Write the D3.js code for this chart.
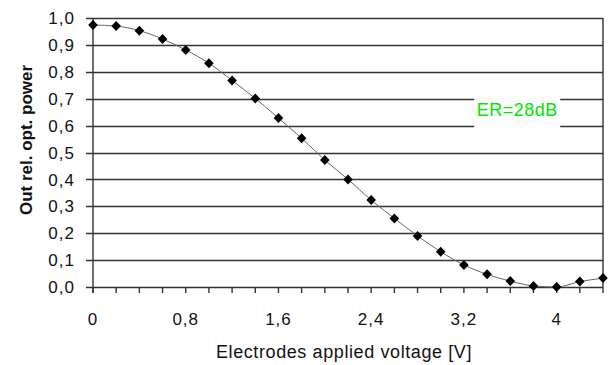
<!DOCTYPE html>
<html>
<head>
<meta charset="utf-8">
<script src="https://cdn.jsdelivr.net/npm/d3@7"></script>
<style>
  body { margin: 0; background: #fff; }
  svg { display: block; font-family: "Liberation Sans", Arial, sans-serif; }
</style>
</head>
<body>
<svg id="chart"></svg>
<script>
const width = 610
const height = 365

// voltage [V] and relative optical output power
const voltage = [0, 0.2, 0.4, 0.6, 0.8, 1.0, 1.2, 1.4, 1.6, 1.8, 2.0, 2.2, 2.4, 2.6, 2.8, 3.0, 3.2, 3.4, 3.6, 3.8, 4.0, 4.2, 4.4]
const power = [0.974, 0.97, 0.953, 0.922, 0.881, 0.832, 0.768, 0.701, 0.628, 0.553, 0.472, 0.40, 0.323, 0.255, 0.19, 0.131, 0.082, 0.047, 0.022, 0.004, 0.0, 0.02, 0.033]
const yTicks = [0, 0.1, 0.2, 0.3, 0.4, 0.5, 0.6, 0.7, 0.8, 0.9, 1.0]
const xMinorTicks = d3.range(0, 4.41, 0.2)
const xLabelTicks = [0, 0.8, 1.6, 2.4, 3.2, 4]
const annotation = 'ER=28dB'

const margin = { top: 18, right: 7, bottom: 78, left: 93 }
const innerW = width - margin.left - margin.right
const innerH = height - margin.top - margin.bottom

const x = d3.scaleLinear().domain([0, 4.4]).range([0, innerW])
const y = d3.scaleLinear().domain([0, 1]).range([innerH, 0])

const comma = v => d3.format('.1f')(v).replace('.', ',')
const commaTrim = v => (Number.isInteger(v) ? String(v) : comma(v))

const svg = d3.select('#chart').attr('width', width).attr('height', height)
const g = svg.append('g').attr('transform', `translate(${margin.left},${margin.top})`)

// horizontal grid lines (extend left as y ticks)
g.append('g')
  .selectAll('line')
  .data(yTicks)
  .enter().append('line')
  .attr('x1', -7)
  .attr('x2', innerW)
  .attr('y1', d => Math.round(y(d)) + 0.5)
  .attr('y2', d => Math.round(y(d)) + 0.5)
  .attr('stroke', '#333')
  .attr('stroke-width', 1.6)

// right border + left axis
g.append('line')
  .attr('x1', innerW).attr('x2', innerW)
  .attr('y1', 0).attr('y2', innerH)
  .attr('stroke', '#333').attr('stroke-width', 1.4)
g.append('line')
  .attr('x1', 0).attr('x2', 0)
  .attr('y1', 0).attr('y2', innerH + 6)
  .attr('stroke', '#333').attr('stroke-width', 1.4)

// y labels
g.append('g')
  .selectAll('text')
  .data(yTicks)
  .enter().append('text')
  .attr('x', -18)
  .attr('y', d => y(d))
  .attr('dy', '0.36em')
  .attr('text-anchor', 'end')
  .attr('font-size', 17)
  .attr('letter-spacing', 1)
  .attr('fill', '#111')
  .text(comma)

// x ticks
g.append('g')
  .selectAll('line')
  .data(xMinorTicks)
  .enter().append('line')
  .attr('x1', d => x(d)).attr('x2', d => x(d))
  .attr('y1', innerH).attr('y2', innerH + 6)
  .attr('stroke', '#333')
  .attr('stroke-width', 1.4)

g.append('g')
  .selectAll('text')
  .data(xLabelTicks)
  .enter().append('text')
  .attr('x', d => x(d))
  .attr('y', innerH + 38)
  .attr('text-anchor', 'middle')
  .attr('font-size', 17)
  .attr('letter-spacing', 1)
  .attr('fill', '#111')
  .text(commaTrim)

// annotation box
const annX = x(3.66)
const annY = y(0.66)
g.append('rect')
  .attr('x', annX - 43).attr('y', y(0.7) - 3)
  .attr('width', 86).attr('height', y(0.6) - y(0.7) + 6)
  .attr('fill', '#fff')
g.append('text')
  .attr('x', annX)
  .attr('y', annY)
  .attr('dy', '0.36em')
  .attr('text-anchor', 'middle')
  .attr('font-size', 18)
  .attr('letter-spacing', 0.5)
  .attr('fill', '#00e600')
  .text(annotation)

// curve
const pts = voltage.map((v, i) => [v, power[i]])
g.append('path')
  .datum(pts)
  .attr('fill', 'none')
  .attr('stroke', '#666')
  .attr('stroke-width', 1)
  .attr('d', d3.line().x(d => x(d[0])).y(d => y(d[1])).curve(d3.curveMonotoneX))

g.append('g')
  .selectAll('path')
  .data(pts)
  .enter().append('path')
  .attr('transform', d => `translate(${x(d[0])},${y(d[1])})`)
  .attr('d', 'M0,-5L4.8,0L0,5L-4.8,0Z')
  .attr('fill', '#000')

// axis titles
svg.append('text')
  .attr('x', 344)
  .attr('y', 358)
  .attr('text-anchor', 'middle')
  .attr('font-size', 18)
  .attr('letter-spacing', 0.6)
  .attr('fill', '#111')
  .text('Electrodes applied voltage [V]')

svg.append('text')
  .attr('transform', 'translate(32,140) rotate(-90)')
  .attr('text-anchor', 'middle')
  .attr('font-size', 17)
  .attr('font-weight', 'bold')
  .attr('fill', '#111')
  .text('Out rel. opt. power')
</script>
</body>
</html>
